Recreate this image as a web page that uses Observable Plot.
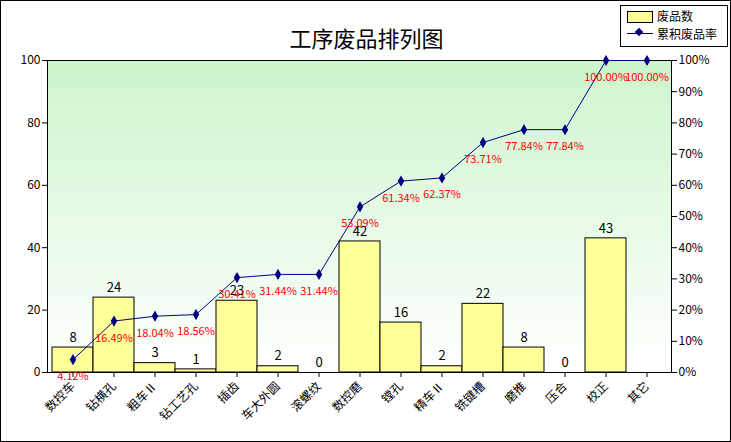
<!DOCTYPE html>
<html><head><meta charset="utf-8">
<script src="https://cdn.jsdelivr.net/npm/d3@7"></script>
<script src="https://cdn.jsdelivr.net/npm/@observablehq/plot@0.6"></script>
<style>
body{margin:0;background:#fff;}
#wrap{position:relative;width:729px;height:440px;border:1px solid #000;overflow:hidden;}
#title{position:absolute;left:0;width:731px;top:20px;text-align:center;font:22px "Noto Sans CJK SC";}
#legend{position:absolute;left:619px;top:4px;width:106px;height:40px;border:1px solid #000;background:#fff;font:12px "Noto Sans CJK SC";}
</style></head><body>
<div id="wrap"><div id="chart"></div><div id="title">工序废品排列图</div>
<div id="legend">
<div style="position:absolute;left:6px;top:5px;width:24px;height:10px;background:#ffff99;border:1px solid #000"></div>
<div style="position:absolute;left:36px;top:1px">废品数</div>
<div style="position:absolute;left:6px;top:27px;width:26px;height:1px;background:#000080"></div>
<div style="position:absolute;left:15px;top:23px;width:6px;height:6px;background:#000080;transform:rotate(45deg)"></div>
<div style="position:absolute;left:36px;top:19px">累积废品率</div>
</div></div>
<script>
const categories=["数控车","钻横孔","粗车Ⅱ","钻工艺孔","插齿","车大外圆","滚螺纹","数控磨","镗孔","精车Ⅱ","铣键槽","磨推","压合","校正","其它"];
const counts=[8,24,3,1,23,2,0,42,16,2,22,8,0,43,0];
const cumPct=[4.12,16.49,18.04,18.56,30.41,31.44,31.44,53.09,61.34,62.37,73.71,77.84,77.84,100,100];
const bars=categories.map((c,i)=>({c,v:counts[i]}));
const line=categories.map((c,i)=>({c,p:cumPct[i]}));
const font='"Noto Sans CJK SC", sans-serif';
const plot=Plot.plot({
  width:729,height:440,marginLeft:46,marginRight:59,marginTop:59,marginBottom:69,
  style:{fontFamily:font,fontSize:"12px",background:"transparent"},
  x:{type:"band",domain:categories,padding:0,label:null},
  y:{domain:[0,100],label:null},
  marks:[
    Plot.frame({fill:"url(#bg)",stroke:"#000"}),
    Plot.axisY({ticks:[0,20,40,60,80,100],label:null,tickSize:5,tickPadding:2,fontSize:12}),
    Plot.axisY({anchor:"right",ticks:d3.range(0,101,10),tickFormat:d=>d+"%",label:null,tickSize:5,tickPadding:2,fontSize:12}),
    Plot.axisX({tickRotate:-45,label:null,tickSize:5,fontSize:12}),
    Plot.barY(bars.filter(d=>d.v>0),{x:"c",y:"v",fill:"#ffff99",stroke:"#000",inset:0}),
    Plot.text(bars.filter((d,i)=>i<14),{x:"c",y:"v",text:d=>String(d.v),dy:-10,fontSize:13,fill:"#000"}),
    Plot.line(line,{x:"c",y:"p",stroke:"#000080",strokeWidth:1}),
    Plot.dot(line,{x:"c",y:"p",symbol:"diamond",r:2.5,fill:"#000080",stroke:"#000080"}),
    Plot.text(line,{x:"c",y:"p",text:d=>d.p.toFixed(2)+"%",dy:17,fill:"#ff0000",fontSize:11})
  ]
});
const defs=d3.select(plot).insert("defs",":first-child");
const g=defs.append("linearGradient").attr("id","bg").attr("x1",0).attr("y1",0).attr("x2",0).attr("y2",1);
g.append("stop").attr("offset","0%").attr("stop-color","#ccf5cc");
g.append("stop").attr("offset","100%").attr("stop-color","#ffffff");
document.getElementById("chart").append(plot);
</script></body></html>
